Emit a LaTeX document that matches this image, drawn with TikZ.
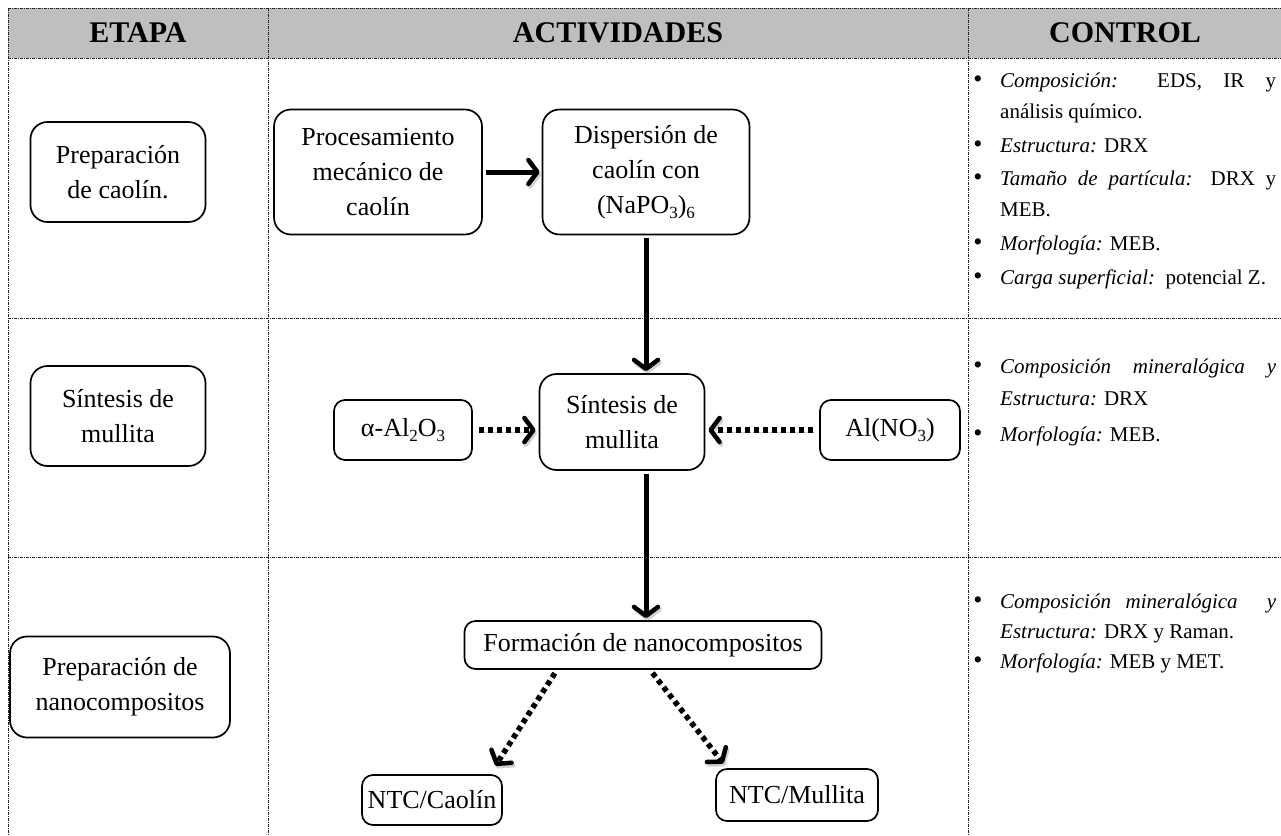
\documentclass[tikz,border=0pt]{standalone}
\usepackage{fontspec}
\setmainfont{Liberation Serif}
\usetikzlibrary{arrows.meta}
\newcommand{\sbs}[1]{\raisebox{-0.22em}{\fontsize{17}{17}\selectfont #1}}
\begin{document}
\begin{tikzpicture}[x=1pt,y=-1pt,
  grid/.style={line width=0.9pt, dash pattern=on 3pt off 1pt on 1pt off 1pt, black!85},
  rbox/.style={draw, line width=1.7pt, rounded corners=17pt, align=center, font=\fontsize{26}{35}\selectfont, inner sep=4pt, fill=white},
  sbox/.style={draw, line width=1.7pt, rounded corners=11pt, align=center, font=\fontsize{26}{30}\selectfont, inner sep=4pt, fill=white},
  hdr/.style={font=\fontsize{30}{34}\selectfont\bfseries},
  shadowed/.style={preaction={draw=black!18, transform canvas={shift={(1.5pt,-2.5pt)}}}},
  tip/.style={-{Straight Barb[length=9pt,width=24pt,line width=4.5pt,round]}},
  solidarrow/.style={line width=5pt, tip, shadowed},
  dotarrow/.style={line width=5.5pt, dash pattern=on 5pt off 4pt, tip, shadowed},
  ctl/.style={anchor=west, inner sep=0pt, text height=15pt, text depth=5pt, font=\fontsize{21}{25}\selectfont},
  bul/.style={inner sep=0pt, font=\fontsize{26}{26}\selectfont}
]
\useasboundingbox (0,0) rectangle (1281,835);
% header
\fill[gray!50] (8,8) rectangle (1281,58);
\foreach \yy in {8,58,318,557} \draw[grid] (8,\yy) -- (1281,\yy);
\foreach \xx in {8,268,968} \draw[grid] (\xx,8) -- (\xx,835);
\node[hdr] (h1) at (138,33) {ETAPA};
\node[hdr] (h2) at (618,33) {ACTIVIDADES};
\node[hdr] (h3) at (1125,33) {CONTROL};

% etapa boxes
\node[rbox, minimum width=175, minimum height=100] (e1) at (118,172) {Preparación\\de caolín.};
\node[rbox, minimum width=175, minimum height=100] (e2) at (118,416) {Síntesis de\\mullita};
\node[rbox, minimum width=220, minimum height=101] (e3) at (120,687) {Preparación de\\nanocompositos};

% activities
\node[rbox, minimum width=208, minimum height=125] (proc) at (378,172) {Procesamiento\\mecánico de\\caolín};
\node[rbox, minimum width=207, minimum height=125] (disp) at (646,172) {Dispersión de\\caolín con\\(NaPO\sbs{3})\sbs{6}};
\node[rbox, minimum width=165, minimum height=96] (sint) at (622,422) {Síntesis de\\mullita};
\node[sbox, minimum width=138, minimum height=60] (alpha) at (403,430) {α-Al\sbs{2}O\sbs{3}};
\node[sbox, minimum width=140, minimum height=60] (alno) at (890,430) {Al(NO\sbs{3})};
\node[sbox, minimum width=357, minimum height=48] (form) at (643,645) {Formación de nanocompositos};
\node[sbox, minimum width=140, minimum height=50] (ntcc) at (432,800) {NTC/Caolín};
\node[sbox, minimum width=162, minimum height=52] (ntcm) at (797,795) {NTC/Mullita};

\draw[solidarrow, shorten <=3pt, shorten >=2pt] (proc.east) -- (disp.west);
\draw[solidarrow, shorten <=3pt, shorten >=2pt] (disp.south) -- (disp.south |- sint.north);
\draw[solidarrow, shorten <=3pt, shorten >=2pt] (disp.south |- sint.south) -- (disp.south |- form.north);
\draw[dotarrow, shorten <=6pt, shorten >=3pt] (alpha.east) -- (alpha.east -| sint.west);
\draw[dotarrow, shorten <=6pt, shorten >=3pt] (alno.west) -- (alno.west -| sint.east);
\draw[dotarrow, shorten <=4pt, shorten >=10pt] ([xshift=-86pt]form.south) -- ([xshift=58pt]ntcc.north);
\draw[dotarrow, shorten <=4pt, shorten >=6pt] ([xshift=7pt]form.south) -- ([xshift=-70pt]ntcm.north);

% control row 1
\node[bul] (b1) at (978,82) {\textbullet};
\node[ctl] (c1) at (1000,82) {\makebox[276pt][s]{\textit{Composición:} EDS, IR y}};
\node[ctl] (c2) at (1000,113) {análisis químico.};
\node[bul] (b2) at (978,147) {\textbullet};
\node[ctl] (c3) at (1000,147) {\textit{Estructura:} DRX};
\node[bul] (b3) at (978,180) {\textbullet};
\node[ctl] (c4) at (1000,180) {\makebox[276pt][s]{\textit{Tamaño de partícula:} DRX y}};
\node[ctl] (c5) at (1000,211) {MEB.};
\node[bul] (b4) at (978,245) {\textbullet};
\node[ctl] (c6) at (1000,245) {\textit{Morfología:} MEB.};
\node[bul] (b5) at (978,279) {\textbullet};
\node[ctl] (c7) at (1000,279) {\textit{Carga superficial:}\ \ potencial Z.};
% control row 2
\node[bul] (b6) at (978,368) {\textbullet};
\node[ctl] (d1) at (1000,368) {\makebox[276pt][s]{\textit{Composición mineralógica y}}};
\node[ctl] (d2) at (1000,400) {\textit{Estructura:} DRX};
\node[bul] (b7) at (978,436) {\textbullet};
\node[ctl] (d3) at (1000,436) {\textit{Morfología:} MEB.};
% control row 3
\node[bul] (b8) at (978,603) {\textbullet};
\node[ctl] (f1) at (1000,603) {\makebox[276pt][s]{\textit{Composición mineralógica \ y}}};
\node[ctl] (f2) at (1000,633) {\textit{Estructura:} DRX y Raman.};
\node[bul] (b9) at (978,663) {\textbullet};
\node[ctl] (f3) at (1000,663) {\textit{Morfología:} MEB y MET.};
\end{tikzpicture}
\end{document}
